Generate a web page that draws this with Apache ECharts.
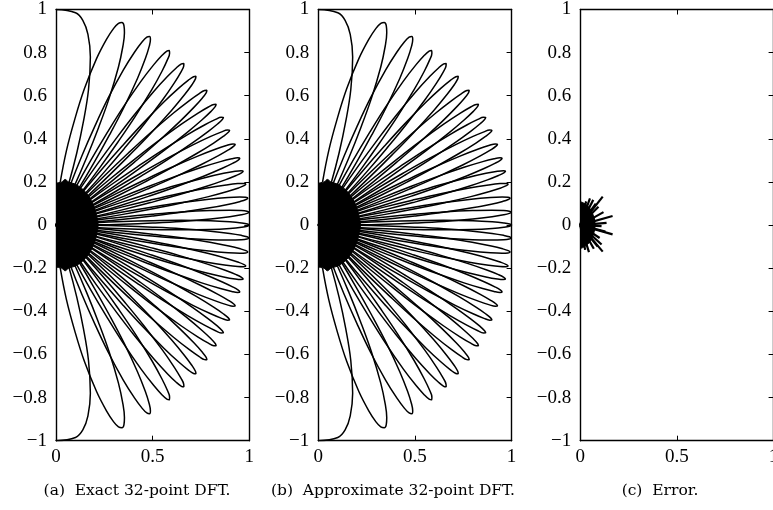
<!DOCTYPE html>
<html>
<head>
<meta charset="utf-8">
<script src="https://cdn.jsdelivr.net/npm/echarts@6/dist/echarts.min.js"></script>
<style>
  html, body { margin: 0; padding: 0; background: #ffffff; }
  #chart { width: 773px; height: 510px; }
</style>
</head>
<body>
<div id="chart"></div>
<script>
// beam tips (height of the tip on the unit circle) (a) and (b)
const lobeTipY = [1, 0.94, 0.875, 0.81, 0.75, 0.69, 0.625, 0.56, 0.5, 0.44, 0.375, 0.31,
  0.25, 0.19, 0.125, 0.06, 0, -0.06, -0.125, -0.19, -0.25, -0.31, -0.375, -0.44, -0.5,
  -0.56, -0.625, -0.69, -0.75, -0.81, -0.875, -0.94, -1]

// one beam outline: radius level -> half-width (in sine of the angle)
const lobeLevel = [0, 0.2, 0.35, 0.5, 0.65, 0.8, 0.9, 0.96, 0.99, 1]
const lobeSpread = [0.0625, 0.054, 0.048, 0.041, 0.034, 0.025, 0.017, 0.0105, 0.0052, 0]

// solid sidelobe core around the origin
const coreX = [0, 0.03, 0.047, 0.065, 0.1, 0.14, 0.172, 0.195, 0.21, 0.218, 0.21, 0.195, 0.172, 0.14, 0.1, 0.065, 0.047, 0.03, 0]
const coreY = [0.19, 0.2, 0.212, 0.2, 0.19, 0.165, 0.13, 0.09, 0.045, 0, -0.045, -0.09, -0.13, -0.165, -0.19, -0.2, -0.212, -0.2, -0.19]

// panel (c): error spikes and their core
const errTipX = [0.116, 0.05, 0.067, 0.03, 0.094, 0.12, 0.167, 0.136, 0.11, 0.167, 0.13, 0.1, 0.11, 0.116, 0.07, 0.045, 0.025, 0.08, 0.09, 0.075]
const errTipY = [0.132, 0.124, 0.117, 0.11, 0.085, 0.06, 0.042, 0.01, -0.005, -0.043, -0.03, -0.06, -0.09, -0.123, -0.11, -0.125, -0.115, 0.1, -0.1, 0.03]
const errCoreX = [0, 0.03, 0.055, 0.07, 0.077, 0.07, 0.055, 0.03, 0]
const errCoreY = [0.105, 0.095, 0.07, 0.037, 0, -0.037, -0.07, -0.095, -0.105]

const xRange = [0, 1, 0.5]
const yRange = [-1, 1, 0.2]
const captions = ['(a)  Exact 32-point DFT.', '(b)  Approximate 32-point DFT.', '(c)  Error.']

const PANEL_LEFT = [56, 318.3, 580.3]
const PANEL_TOP = 9.5
const PANEL_W = 193.3
const PANEL_H = 431.2
const CAPTION_X = [137, 393, 660]
const FONT = "'Liberation Serif', 'DejaVu Serif', serif"

function lobePoints(tip) {
  const left = []
  const right = []
  lobeLevel.forEach((level, i) => {
    const uL = tip + lobeSpread[i]
    const uR = tip - lobeSpread[i]
    if (Math.abs(uL) <= 1) {
      const a = Math.asin(uL)
      left.push([level * Math.cos(a), level * Math.sin(a)])
    }
    if (Math.abs(uR) <= 1 && lobeSpread[i] > 0) {
      const a = Math.asin(uR)
      right.push([level * Math.cos(a), level * Math.sin(a)])
    }
  })
  return left.concat(right.reverse())
}

function polygonSeries(xs, ys, panel) {
  return {
    type: 'custom',
    xAxisIndex: panel * 2,
    yAxisIndex: panel * 2,
    silent: true,
    clip: true,
    data: [[0, 0]],
    renderItem: (params, api) => ({
      type: 'polygon',
      shape: {
        points: xs.map((x, j) => api.coord([x, ys[j]])),
        smooth: 0.3
      },
      style: { fill: '#000', stroke: '#000', lineWidth: 1 }
    })
  }
}

function axisLine(width) {
  return { show: true, onZero: false, lineStyle: { color: '#000', width: width } }
}

const fmt = v => {
  const r = Math.round(v * 10) / 10
  return r === 0 ? '0' : String(r).replace('-', '\u2212')
}

const grid = []
const xAxis = []
const yAxis = []
const series = []

PANEL_LEFT.forEach((left, p) => {
  grid.push({ left: left, top: PANEL_TOP, width: PANEL_W, height: PANEL_H, outerBoundsMode: 'none', containLabel: false })

  xAxis.push({
    type: 'value', gridIndex: p, position: 'bottom',
    min: xRange[0], max: xRange[1], interval: xRange[2],
    axisLine: axisLine(1.4),
    axisTick: { show: true, inside: true, length: 5, lineStyle: { color: '#000' } },
    axisLabel: { color: '#000', fontFamily: FONT, fontSize: 19, margin: 7, formatter: fmt, showMaxLabel: true, showMinLabel: true },
    splitLine: { show: false }
  })
  xAxis.push({
    type: 'value', gridIndex: p, position: 'top',
    min: xRange[0], max: xRange[1], interval: xRange[2],
    axisLine: axisLine(1.4),
    axisTick: { show: true, inside: true, length: 5, lineStyle: { color: '#000' } },
    axisLabel: { show: false },
    splitLine: { show: false }
  })
  yAxis.push({
    type: 'value', gridIndex: p, position: 'left',
    min: yRange[0], max: yRange[1], interval: yRange[2],
    axisLine: axisLine(1.4),
    axisTick: { show: false },
    axisLabel: { color: '#000', fontFamily: FONT, fontSize: 19, margin: 9, formatter: fmt, showMaxLabel: true, showMinLabel: true },
    splitLine: { show: false }
  })
  yAxis.push({
    type: 'value', gridIndex: p, position: 'right',
    min: yRange[0], max: yRange[1], interval: yRange[2],
    axisLine: axisLine(1.4),
    axisTick: { show: true, inside: true, length: 5, lineStyle: { color: '#000' } },
    axisLabel: { show: false },
    splitLine: { show: false }
  })

  if (p < 2) {
    series.push(polygonSeries(coreX, coreY, p))
    lobeTipY.forEach(tip => {
      series.push({
        type: 'line',
        xAxisIndex: p * 2,
        yAxisIndex: p * 2,
        data: lobePoints(tip),
        smooth: 0.4,
        showSymbol: false,
        silent: true,
        animation: false,
        lineStyle: { color: '#000', width: 1.5 }
      })
    })
  } else {
    series.push(polygonSeries(errCoreX, errCoreY, p))
    series.push({
      type: 'custom',
      xAxisIndex: p * 2,
      yAxisIndex: p * 2,
      silent: true,
      data: errTipX.map((x, i) => [x, errTipY[i]]),
      renderItem: (params, api) => {
        const o = api.coord([0, 0])
        const t = api.coord([api.value(0), api.value(1)])
        return {
          type: 'line',
          shape: { x1: o[0], y1: o[1], x2: t[0], y2: t[1] },
          style: { stroke: '#000', lineWidth: 2.2 }
        }
      }
    })
  }
})

const graphic = captions.map((text, p) => ({
  type: 'text',
  x: CAPTION_X[p],
  y: 491,
  style: {
    text: text,
    align: 'center',
    verticalAlign: 'middle',
    fill: '#000',
    font: "15.5px 'DejaVu Serif', serif"
  }
}))

const chart = echarts.init(document.getElementById('chart'), null, { renderer: 'canvas' })
chart.setOption({
  animation: false,
  backgroundColor: '#ffffff',
  textStyle: { fontFamily: FONT },
  grid: grid,
  xAxis: xAxis,
  yAxis: yAxis,
  series: series,
  graphic: graphic
})
</script>
</body>
</html>
